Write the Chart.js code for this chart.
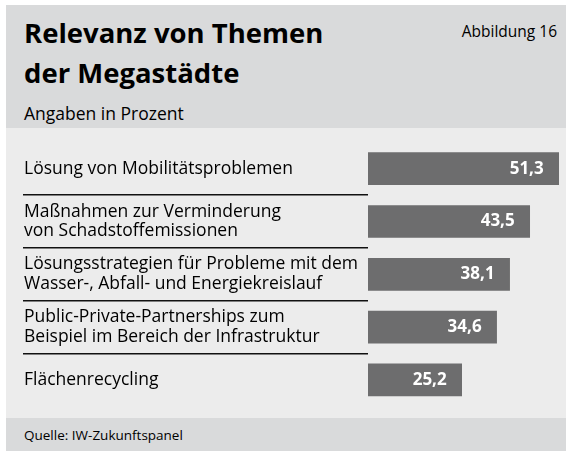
<!DOCTYPE html>
<html><head><meta charset="utf-8">
<script src="https://cdn.jsdelivr.net/npm/chart.js@4"></script>
<style>
html,body{margin:0;padding:0;background:#fff;}
body{width:568px;height:451px;position:relative;overflow:hidden;font-family:"Open Sans",sans-serif;color:#000;}
#head{position:absolute;left:6px;top:5px;width:560px;height:123px;background:#d9dadb;}
#title{position:absolute;left:18px;top:8px;font-weight:bold;font-size:27.5px;line-height:40px;}
#sub{position:absolute;left:18px;top:97px;font-size:17.5px;line-height:22px;}
#fig{position:absolute;right:9px;top:16px;font-size:15.5px;line-height:20px;}
#body{position:absolute;left:6px;top:128px;width:560px;height:290px;background:#ececec;}
#foot{position:absolute;left:6px;top:418px;width:560px;height:33px;background:#d9dadb;}
#src{position:absolute;left:18px;top:8px;font-size:13.5px;line-height:18px;}
</style></head>
<body>
<div id="head">
  <div id="title">Relevanz von Themen<br>der Megastädte</div>
  <div id="fig">Abbildung 16</div>
  <div id="sub">Angaben in Prozent</div>
</div>
<div id="body"><canvas id="c" width="560" height="290"></canvas></div>
<div id="foot"><div id="src">Quelle: IW-Zukunftspanel</div></div>
<script>
const categories = [
  ["Lösung von Mobilitätsproblemen"],
  ["Maßnahmen zur Verminderung", "von Schadstoffemissionen"],
  ["Lösungsstrategien für Probleme mit dem", "Wasser-, Abfall- und Energiekreislauf"],
  ["Public-Private-Partnerships zum", "Beispiel im Bereich der Infrastruktur"],
  ["Flächenrecycling"]
];
const values = [51.3, 43.5, 38.1, 34.6, 25.2];

const valueLabels = {
  id: 'valueLabels',
  afterDatasetsDraw(chart) {
    const ctx = chart.ctx;
    const meta = chart.getDatasetMeta(0);
    ctx.save();
    ctx.fillStyle = '#ffffff';
    ctx.font = 'bold 17px "Open Sans", sans-serif';
    ctx.textAlign = 'right';
    ctx.textBaseline = 'middle';
    meta.data.forEach((bar, i) => {
      const txt = values[i].toFixed(1).replace('.', ',');
      ctx.fillText(txt, bar.x - 15, bar.y);
    });
    ctx.restore();
  }
};

const lineColor = (c) => (c.index > 0 && c.index < categories.length) ? '#111111' : 'rgba(0,0,0,0)';

new Chart(document.getElementById('c'), {
  type: 'bar',
  data: {
    labels: categories,
    datasets: [{
      data: values,
      backgroundColor: '#6d6d6e',
      borderWidth: 0,
      barThickness: 32
    }]
  },
  options: {
    indexAxis: 'y',
    responsive: false,
    animation: false,
    events: [],
    layout: { padding: { left: 18, right: 1, top: 14.3, bottom: 11.7 } },
    plugins: { legend: { display: false }, tooltip: { enabled: false }, title: { display: false } },
    scales: {
      x: { display: false, min: 0, max: 53 },
      y: {
        border: { display: false },
        grid: {
          offset: true,
          drawOnChartArea: false,
          drawTicks: true,
          tickLength: 345,
          lineWidth: 1.5,
          color: lineColor,
          tickColor: lineColor
        },
        ticks: {
          crossAlign: 'far',
          color: '#000',
          padding: 0,
          autoSkip: false,
          font: { family: '"Open Sans", sans-serif', size: 17.5, lineHeight: 1.14 }
        },
        afterFit(scale) { scale.width = 344; }
      }
    }
  },
  plugins: [valueLabels]
});
</script>
</body></html>
